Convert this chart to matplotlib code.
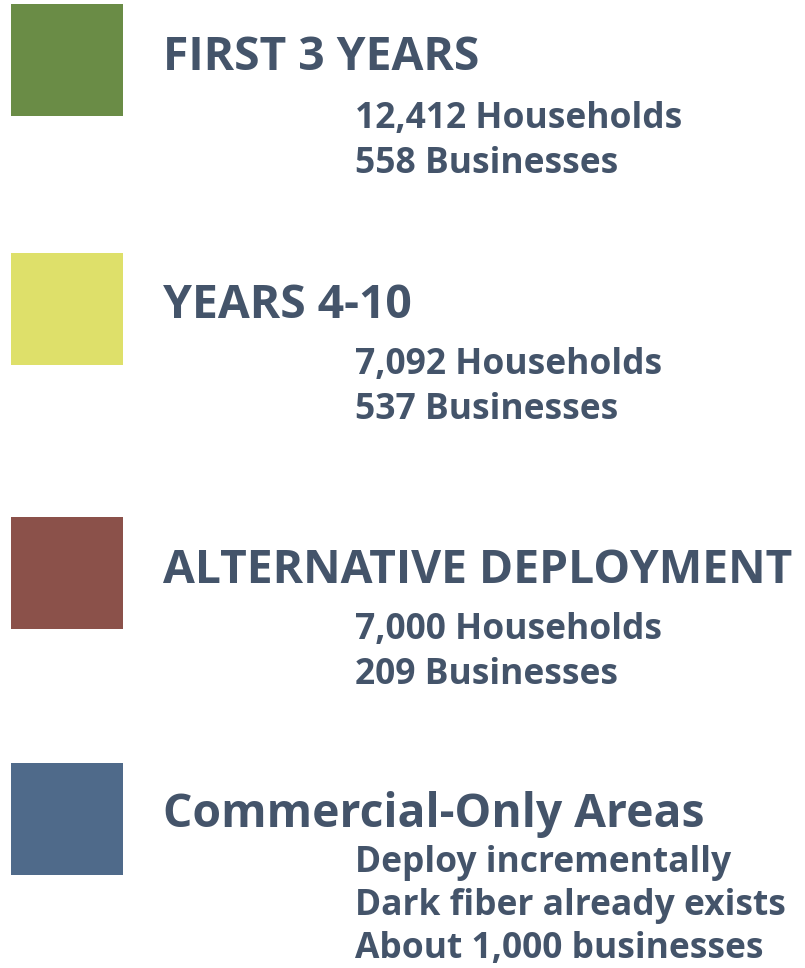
import matplotlib
matplotlib.use('Agg')
import matplotlib.pyplot as plt
from matplotlib.patches import Rectangle

# legend content
titles = ['FIRST 3 YEARS', 'YEARS 4-10', 'ALTERNATIVE DEPLOYMENT', 'Commercial-Only Areas']
details = [
    ['12,412 Households', '558 Businesses'],
    ['7,092 Households', '537 Businesses'],
    ['7,000 Households', '209 Businesses'],
    ['Deploy incrementally', 'Dark fiber already exists', 'About 1,000 businesses'],
]
colors = ['#6a8c46', '#dee06a', '#8b514a', '#4f6a8a']
text_color = '#44546a'

# layout in pixels (top origin)
swatch_top = [4, 253, 517, 763]
title_base = [70, 318, 583, 827]
detail_base = [[128, 173], [374, 419], [639, 684], [872, 915, 958]]


def main():
    fig = plt.figure(figsize=(8.05, 9.68), dpi=100)
    ax = fig.add_axes([0, 0, 1, 1])
    ax.set_xlim(0, 805)
    ax.set_ylim(968, 0)
    ax.axis('off')

    font = ['Open Sans', 'DejaVu Sans']
    for i, title in enumerate(titles):
        ax.add_patch(Rectangle((11, swatch_top[i]), 112, 112, color=colors[i], lw=0))
        ax.text(163, title_base[i], title, fontsize=33.3, fontweight='bold',
                family=font, color=text_color, va='baseline', ha='left')
        for line, yb in zip(details[i], detail_base[i]):
            ax.text(355, yb, line, fontsize=25.5, fontweight='bold',
                    family=font, color=text_color, va='baseline', ha='left')

    fig.savefig('out.png', dpi=100, facecolor='white')
    plt.close(fig)


if __name__ == '__main__':
    main()
